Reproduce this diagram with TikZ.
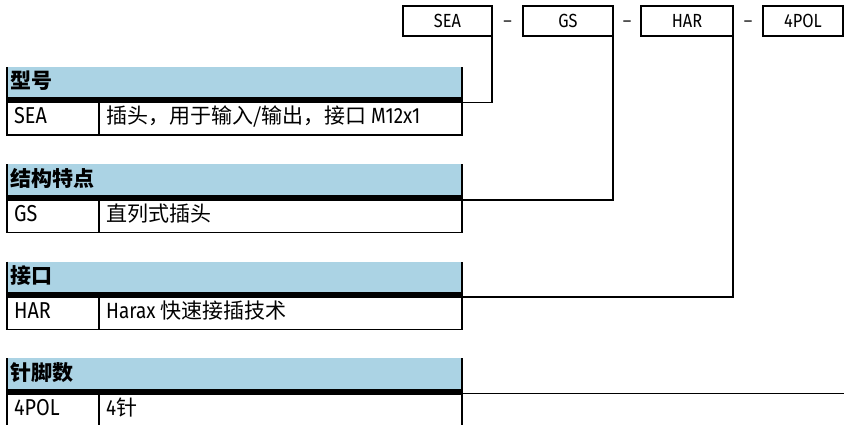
\documentclass[tikz,border=0pt]{standalone}
\usepackage{fontspec}
\newfontfamily\lat[FakeStretch=0.86]{Fira Sans}
\newfontfamily\cjk{Noto Sans CJK SC}
\definecolor{hdr}{RGB}{171,211,228}
\tikzset{
  topbox/.style={draw, line width=1.8pt, minimum height=30pt, inner sep=0pt, outer sep=0pt,
    font=\lat\fontsize{19}{19}\selectfont, text height=13pt, text depth=0pt},
  sepdash/.style={inner sep=0pt, text=black!85, font=\lat\fontsize{19}{19}\selectfont, text height=13pt, text depth=0pt},
  hdrtext/.style={anchor=base west, inner sep=0pt, font=\cjk\bfseries\fontsize{21}{21}\selectfont},
  codetext/.style={anchor=base west, inner sep=0pt, font=\lat\fontsize{23}{23}\selectfont},
  desctext/.style={anchor=base west, inner sep=0pt, font=\cjk\fontsize{21}{21}\selectfont},
  tline/.style={line width=1.8pt},
  conn/.style={line width=1.8pt},
}
\begin{document}
\begin{tikzpicture}[x=1pt,y=-1pt]
\useasboundingbox (0,0) rectangle (844,425);

% top code boxes
\node[topbox, minimum width=89pt] (sea) at (447.5,21) {SEA};
\node[topbox, minimum width=90pt] (gs)  at (568,21) {GS};
\node[topbox, minimum width=92pt] (har) at (687,21) {HAR};
\node[topbox, minimum width=80pt] (pol) at (803,21) {4POL};
\node[sepdash] (d1) at (507.5,21) {–};
\node[sepdash] (d2) at (627,21) {–};
\node[sepdash] (d3) at (748,21) {–};

% tables
\foreach \t/\nm in {67/1, 164.5/2, 261.5/3, 358/4}{
  \fill[hdr] (7,\t) rectangle (462,\t+30.5);
  \fill[black] (7,\t+30.5) rectangle (462,\t+36.5);
  \draw[tline] (99,\t+36.5) -- (99,\t+68);
  \coordinate (e\nm) at (462,\t+35.5);
}
\draw[tline] (7,67) -- (7,135) -- (462,135) -- (462,67);
\draw[tline] (7,164.5) -- (7,232.5) -- (462,232.5) -- (462,164.5);
\draw[tline] (7,261.5) -- (7,329.5) -- (462,329.5) -- (462,261.5);
\draw[tline] (7,358) -- (7,430);
\draw[tline] (462,358) -- (462,430);

% table texts
\node[hdrtext] (h1) at (10,89) {型号};
\node[codetext] (c1) at (14,124) {SEA};
\node[desctext] (t1) at (106,124) {插头，用于输入/输出，接口 {\lat\fontsize{22}{22}\selectfont M12x1}};

\node[hdrtext] (h2) at (10,186.5) {结构特点};
\node[codetext] (c2) at (14,221.5) {GS};
\node[desctext] (t2) at (106,221.5) {直列式插头};

\node[hdrtext] (h3) at (10,283.5) {接口};
\node[codetext] (c3) at (14,318.5) {HAR};
\node[desctext] (t3) at (106,318.5) {{\lat\fontsize{22}{22}\selectfont Harax} 快速接插技术};

\node[hdrtext] (h4) at (10,380) {针脚数};
\node[codetext] (c4) at (14,415) {4POL};
\node[desctext] (t4) at (106,415) {{\lat\fontsize{22}{22}\selectfont 4}针};

% connectors
\coordinate (rimr) at (844,393.5);
\draw[conn] (sea.south east) |- (e1);
\draw[conn] (gs.south east) |- (e2);
\draw[conn] (har.south east) |- (e3);
\draw[conn] (e4) -- (rimr);
\end{tikzpicture}
\end{document}
